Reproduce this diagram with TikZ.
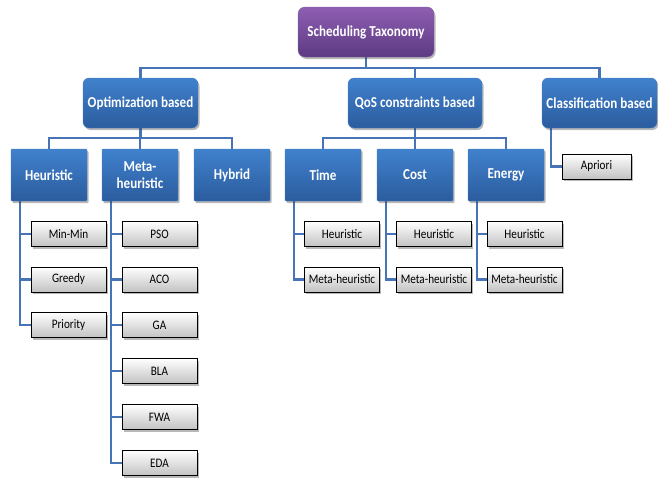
\documentclass[tikz,border=0pt]{standalone}
\usepackage{fontspec}
\setmainfont[FakeStretch=0.86]{Carlito}
\usetikzlibrary{shadows,backgrounds}
\definecolor{lineblue}{HTML}{4674B6}
\definecolor{btop}{HTML}{4081CD}
\definecolor{bbot}{HTML}{2B5C9E}
\definecolor{bdraw}{HTML}{4A7FBF}
\definecolor{ptop}{HTML}{8E5EB2}
\definecolor{pbot}{HTML}{5C3A82}
\definecolor{gbot}{HTML}{C2C2C2}
\tikzset{
  shad/.style={drop shadow={shadow xshift=1.5pt,shadow yshift=-2pt,opacity=0.35,fill=black!80}},
  rootbox/.style={shad,rounded corners=7pt,draw=pbot!80,top color=ptop,bottom color=pbot,
    text=white,font=\bfseries\fontsize{15.2}{17}\selectfont,minimum width=136,minimum height=50},
  catbox/.style={shad,rounded corners=6pt,draw=bdraw,top color=btop,bottom color=bbot,
    text=white,font=\bfseries\fontsize{15.2}{17}\selectfont,minimum height=50},
  subbox/.style={shad,rounded corners=1pt,draw=bdraw,top color=btop,bottom color=bbot,
    text=white,font=\bfseries\fontsize{15.2}{17}\selectfont,minimum width=76,minimum height=52,
    align=center,inner sep=1pt},
  leaf/.style={shad,draw=black,line width=0.9pt,top color=white,bottom color=gbot,
    font=\fontsize{13}{15}\selectfont,minimum width=75,minimum height=25,inner sep=1pt},
  conn/.style={draw=lineblue,line width=2.6pt}
}
\begin{document}
\begin{tikzpicture}[x=1pt,y=-1pt]
\useasboundingbox (0,0) rectangle (658,479);
% root and categories
\node[rootbox] (root) at (366,32) {Scheduling Taxonomy};
\node[catbox,minimum width=115] (opt) at (140.5,103) {Optimization based};
\node[catbox,minimum width=134] (qos) at (415,103) {QoS constraints based};
\node[catbox,minimum width=115] (cls) at (599.5,103) {Classification based};
% level 2
\node[subbox] (heu) at (49,175) {Heuristic};
\node[subbox] (meta) at (140,175) {Meta-\\heuristic};
\node[subbox] (hyb) at (232,175) {Hybrid};
\node[subbox] (time) at (323,175) {Time};
\node[subbox] (cost) at (415,175) {Cost};
\node[subbox] (energy) at (506,175) {Energy};
% leaves
\node[leaf] (minmin) at (68.5,234) {Min-Min};
\node[leaf] (greedy) at (68.5,279.5) {Greedy};
\node[leaf] (prio) at (68.5,325) {Priority};
\node[leaf] (pso) at (159.5,234) {PSO};
\node[leaf] (aco) at (159.5,279.5) {ACO};
\node[leaf] (ga) at (159.5,325) {GA};
\node[leaf] (bla) at (159.5,371) {BLA};
\node[leaf] (fwa) at (159.5,417) {FWA};
\node[leaf] (eda) at (159.5,463) {EDA};
\node[leaf] (th) at (342,234) {Heuristic};
\node[leaf] (tm) at (342,279.5) {Meta-heuristic};
\node[leaf] (ch) at (434,234) {Heuristic};
\node[leaf] (cm) at (434,279.5) {Meta-heuristic};
\node[leaf] (eh) at (524.5,234) {Heuristic};
\node[leaf] (em) at (524.5,279.5) {Meta-heuristic};
\node[leaf,minimum width=69] (apr) at (596.5,166.5) {Apriori};
\coordinate (bus0) at (0,68);
\coordinate (bus1) at (0,138);
\begin{pgfonlayer}{background}
\draw[conn] (root.south) -- (root.south |- bus0) -| (opt.north);
\draw[conn] (root.south |- bus0) -| (qos.north);
\draw[conn] (root.south |- bus0) -| (cls.north);
\draw[conn] (opt.south) -- (opt.south |- bus1) -| (heu.north);
\draw[conn] (opt.south |- bus1) -| (meta.north);
\draw[conn] (opt.south |- bus1) -| (hyb.north);
\draw[conn] (qos.south) -- (qos.south |- bus1) -| (time.north);
\draw[conn] (qos.south |- bus1) -| (cost.north);
\draw[conn] (qos.south |- bus1) -| (energy.north);
\foreach \p/\c in {heu/minmin,heu/greedy,heu/prio,meta/pso,meta/aco,meta/ga,meta/bla,meta/fwa,meta/eda,
  time/th,time/tm,cost/ch,cost/cm,energy/eh,energy/em,cls/apr}
  \draw[conn] (\p.south west) ++(9,0) |- (\c.west);
\end{pgfonlayer}
\end{tikzpicture}
\end{document}
